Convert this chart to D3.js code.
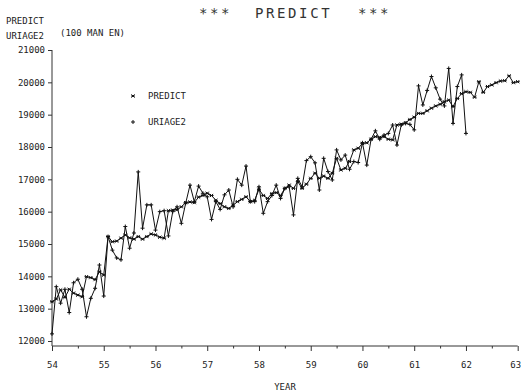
<!DOCTYPE html>
<html>
<head>
<meta charset="utf-8">
<script src="https://cdn.jsdelivr.net/npm/d3@7"></script>
<style>
  body { margin: 0; background: #fff; }
  svg { display: block; }
  text { font-family: "DejaVu Sans Mono", "Liberation Mono", monospace; fill: #222; }
  .lbl { font-size: 9px; }
  .title { font-size: 14px; letter-spacing: 2.6px; fill: #333; }
</style>
</head>
<body>
<div id="chart"></div>
<script>
// monthly values, 54.00 .. 63.00 (PREDICT) and 54.00 .. 62.00 (URIAGE2)
const startYear = 54;
const predict = [
  13215, 13300, 13580, 13350, 13600, 13480, 13420, 13370, 13990, 13960, 13900, 14140,
  14040, 15230, 15070, 15090, 15180, 15280, 15190, 15150, 15230, 15150, 15230, 15310,
  15280, 15210, 15180, 16030, 16050, 16060, 16150, 16280, 16300, 16280, 16450, 16500,
  16570, 16500, 16350, 16250, 16150, 16100, 16200, 16310, 16380, 16460, 16310, 16350,
  16690, 16500, 16410, 16560, 16590, 16500, 16720, 16820, 16720, 16930, 16720, 16850,
  17030, 17190, 17030, 17100, 17030, 17190, 17650, 17290, 17340, 17550, 17910, 17960,
  18110, 18130, 18240, 18320, 18300, 18320, 18240, 18220, 18680, 18710, 18750, 18850,
  18920, 19040, 19040, 19120, 19200, 19270, 19320, 19400, 19450, 19250, 19500, 19650,
  19710, 19690, 19540, 20020, 19690, 19870, 19920, 19990, 20040, 20050, 20200, 19990,
  20020
];
const uriage2 = [
  12220, 13680, 13170, 13600, 12880, 13800, 13910, 13600, 12750, 13320, 13630, 14350,
  13390, 15230, 14810, 14570, 14510, 15540, 14870, 15340, 17230, 15490, 16210, 16210,
  15430, 16000, 16030, 15250, 16000, 16150, 15640, 16260, 16820, 16310, 16790, 16570,
  16460, 15760, 16310, 16070, 16520, 16670, 16150, 17000, 16820, 17410, 16310, 16310,
  16770, 15950, 16310, 16500, 16820, 16410, 16720, 16770, 15900, 17030, 16770, 17580,
  17700, 17510, 16670, 17650, 17240, 16980, 17910, 17600, 17750, 17310, 17550, 17520,
  18130, 17440, 18240, 18500, 18240, 18370, 18420, 18680, 18060, 18680, 18730, 18700,
  18530, 19890, 19300, 19750, 20180, 19830, 19480, 19270, 20430, 18730, 19870, 20230,
  18420
];
const yearTicks = [54, 55, 56, 57, 58, 59, 60, 61, 62, 63];
const valueTicks = [12000, 13000, 14000, 15000, 16000, 17000, 18000, 19000, 20000, 21000];

const width = 521, height = 392;
const axisY = 346;

const svg = d3.select('#chart').append('svg')
  .attr('width', width)
  .attr('height', height);

const x = d3.scaleLinear().domain([54, 63]).range([52, 517.7]);
const y = d3.scaleLinear().domain([12000, 21000]).range([341, 50]);

const toPoints = arr => arr.map((v, i) => ({ t: startYear + i / 12, v }));

// axes
svg.append('line')
  .attr('x1', x(54)).attr('x2', x(63)).attr('y1', axisY).attr('y2', axisY)
  .attr('stroke', '#333');
svg.append('line')
  .attr('x1', x(54)).attr('x2', x(54)).attr('y1', y(21000)).attr('y2', axisY)
  .attr('stroke', '#333');

const xAxis = svg.append('g')
  .attr('transform', `translate(0,${axisY})`)
  .call(d3.axisBottom(x).tickValues(yearTicks).tickFormat(d3.format('d')).tickSize(5).tickPadding(11));
xAxis.select('.domain').remove();
// last label would run off the right edge; pull it in
xAxis.selectAll('.tick text').filter(d => d === 63).attr('text-anchor', 'end').attr('x', 3);

const xMinor = svg.append('g')
  .attr('transform', `translate(0,${axisY})`)
  .call(d3.axisBottom(x).tickValues(yearTicks.slice(0, -1).map(d => d + 0.5)).tickFormat('').tickSize(2.5));
xMinor.select('.domain').remove();

const yAxis = svg.append('g')
  .attr('transform', `translate(${x(54)},0)`)
  .call(d3.axisLeft(y).tickValues(valueTicks).tickFormat(d3.format('d')).tickSize(4).tickPadding(3));
yAxis.select('.domain').remove();

svg.selectAll('.tick line').attr('stroke', '#333');
svg.selectAll('.tick text').attr('class', 'lbl').style('font-family', null).attr('fill', '#222');

// series
const line = d3.line().x(d => x(d.t)).y(d => y(d.v));

const plus = 'M-2,0h4M0,-2v4';
const star = 'M-1.6,-1.6L1.6,1.6M-1.6,1.6L1.6,-1.6M-2,0h4';

function drawSeries(arr, marker) {
  const pts = toPoints(arr);
  svg.append('path')
    .datum(pts)
    .attr('fill', 'none')
    .attr('stroke', '#111')
    .attr('stroke-width', 1)
    .attr('d', line);
  svg.append('g').selectAll('path')
    .data(pts)
    .join('path')
    .attr('transform', d => `translate(${x(d.t)},${y(d.v)})`)
    .attr('d', marker)
    .attr('stroke', '#111')
    .attr('stroke-width', 1)
    .attr('fill', 'none');
}

drawSeries(uriage2, plus);
drawSeries(predict, star);

// legend
const legend = [
  { name: 'PREDICT', marker: star, yy: 96 },
  { name: 'URIAGE2', marker: plus, yy: 122 }
];
legend.forEach(l => {
  svg.append('path')
    .attr('transform', `translate(133,${l.yy})`)
    .attr('d', l.marker)
    .attr('stroke', '#111')
    .attr('fill', 'none');
  svg.append('text')
    .attr('class', 'lbl')
    .attr('x', 148).attr('y', l.yy)
    .attr('dy', '0.35em')
    .text(l.name);
});

// titles
[['***', 199], ['PREDICT', 255], ['***', 358]].forEach(([t, tx]) => {
  svg.append('text')
    .attr('class', 'title')
    .attr('x', tx).attr('y', 13)
    .attr('dy', '0.35em')
    .text(t);
});

svg.append('text').attr('class', 'lbl').attr('x', 6).attr('y', 21).attr('dy', '0.35em').text('PREDICT');
svg.append('text').attr('class', 'lbl').attr('x', 6).attr('y', 36).attr('dy', '0.35em').text('URIAGE2');
svg.append('text').attr('class', 'lbl').attr('x', 60).attr('y', 33).attr('dy', '0.35em').text('(100 MAN EN)');
svg.append('text').attr('class', 'lbl').attr('x', 285).attr('y', 387).attr('dy', '0.35em')
  .attr('text-anchor', 'middle').text('YEAR');
</script>
</body>
</html>
